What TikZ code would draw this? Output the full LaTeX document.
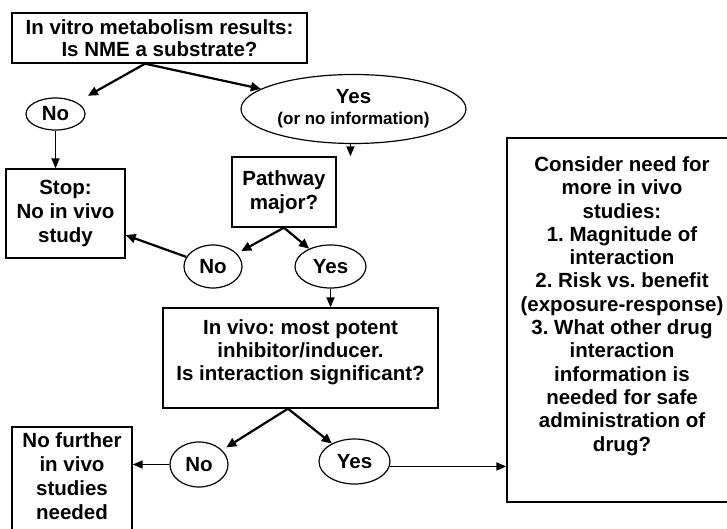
\documentclass[tikz,border=0pt]{standalone}
\usepackage{fontspec}
\setmainfont{Liberation Sans}
\usetikzlibrary{arrows.meta,shapes.geometric}
\tikzset{
  box/.style={draw=black, line width=1.4pt, align=center, inner sep=2pt,
    font=\bfseries\fontsize{20.5}{24}\selectfont},
  oval/.style={draw=black, ellipse, line width=1.2pt, inner sep=0pt, align=center,
    font=\bfseries\fontsize{20.5}{24}\selectfont},
  arr/.style={line width=2.2pt, -{Triangle[length=10pt,width=9pt]}},
  arrthin/.style={line width=1.8pt, -{Triangle[length=10pt,width=8pt]}},
}
\frenchspacing

\begin{document}
\begin{tikzpicture}[x=1pt,y=-1pt]
  \useasboundingbox (0,0) rectangle (727,529);
  % boxes
  \node[box, minimum width=295, minimum height=50, font=\bfseries\fontsize{20.5}{22}\selectfont] (substrate) at (159.5,38) {In vitro metabolism results:\\Is NME a substrate?};
  \node[box, minimum width=119, minimum height=89] (stop) at (65.5,213.5) {Stop:\\No in vivo\\study};
  \node[box, minimum width=104, minimum height=70] (pathway) at (284,192) {Pathway\\major?};
  \node[box, minimum width=275, minimum height=100, font=\bfseries\fontsize{20.5}{23}\selectfont] (inhibit) at (300.5,358) {In vivo: most potent\\inhibitor/inducer.\\Is interaction significant?\\[-7pt]\mbox{}};
  \node[box, minimum width=120, minimum height=122] (nofurther) at (72,488) {No further\\in vivo\\studies\\needed\\\mbox{}};
  \node[box, minimum width=230, minimum height=364, font=\bfseries\fontsize{20.5}{23.3}\selectfont] (consider) at (622,320) {Consider need for\\more in vivo\\studies:\\1. Magnitude of\\interaction\\2. Risk vs. benefit\\(exposure-response)\\3. What other drug\\interaction\\information is\\needed for safe\\administration of\\drug?\\[9pt]\mbox{}};
  % answers
  \node[oval, minimum width=59, minimum height=32] (no1) at (55.5,114) {No};
  \node[oval, minimum width=225, minimum height=69] (yes1) at (353.5,109) {Yes\\[-3pt]{\fontsize{17}{20}\selectfont (or no information)}};
  \node[oval, minimum width=58, minimum height=43] (no2) at (213,266.5) {No};
  \node[oval, minimum width=71, minimum height=43] (yes2) at (330.5,266.5) {Yes};
  \node[oval, minimum width=58, minimum height=45] (no3) at (199,464.5) {No};
  \node[oval, minimum width=71, minimum height=45] (yes3) at (354.5,461.5) {Yes};
  % connectors
  \coordinate (split1) at ([xshift=-14.5pt]substrate.south);
  \coordinate (split2) at ([xshift=-12.5pt]inhibit.south);
  \draw[arr, shorten >=13pt] (split1) -- (no1);
  \draw[arr] (split1) -- (yes1);
  \draw[arrthin] (no1.south) -- (no1.south |- stop.north);
  \draw[arrthin] (yes1.265) -- (yes1.265 |- pathway.north);
  \draw[arr, shorten >=5pt] (pathway.south) -- (no2);
  \draw[arr] (pathway.south) -- (yes2);
  \draw[arr] (no2) -- (stop);
  \draw[arrthin] (yes2.south) -- (yes2.south |- inhibit.north);
  \draw[arr, shorten >=5pt] (split2) -- (no3);
  \draw[arr] (split2) -- (yes3);
  \draw[arrthin] (no3) -- (no3 -| nofurther.east);
  \draw[arrthin] (yes3.-8) -- (yes3.-8 -| consider.west);
\end{tikzpicture}
\end{document}
